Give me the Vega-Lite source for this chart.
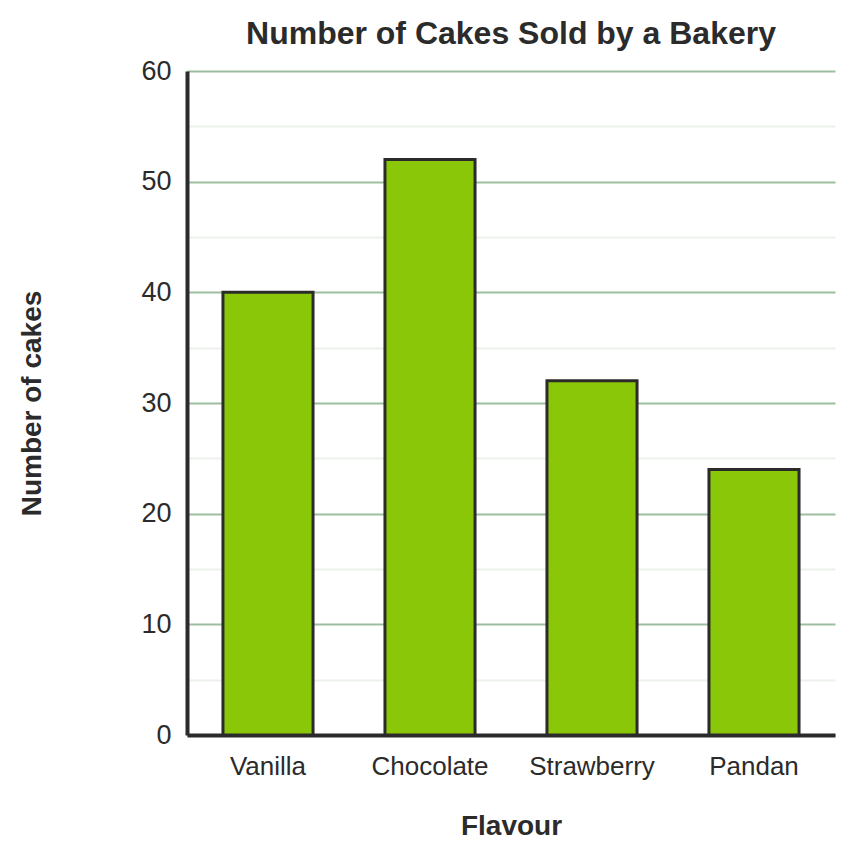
{
  "$schema": "https://vega.github.io/schema/vega-lite/v6.json",
  "width": 648,
  "height": 664,
  "autosize": "none",
  "padding": {"left": 187, "top": 71, "right": 21, "bottom": 120},
  "background": "white",
  "title": {
    "text": "Number of Cakes Sold by a Bakery",
    "font": "Liberation Sans",
    "fontSize": 32,
    "fontWeight": "bold",
    "color": "#2b2b2b",
    "offset": 6
  },
  "data": {
    "values": [
      {"flavour": "Vanilla", "cakes": 40},
      {"flavour": "Chocolate", "cakes": 52},
      {"flavour": "Strawberry", "cakes": 32},
      {"flavour": "Pandan", "cakes": 24}
    ]
  },
  "mark": {"type": "bar", "color": "#8bc709", "stroke": "#2b2b2b", "strokeWidth": 3},
  "encoding": {
    "x": {
      "field": "flavour",
      "type": "nominal",
      "sort": null,
      "title": "Flavour",
      "scale": {"paddingInner": 0.444, "paddingOuter": 0.222},
      "axis": {
        "labelAngle": 0,
        "labelFont": "Liberation Sans",
        "labelFontSize": 26,
        "labelColor": "#2b2b2b",
        "labelPadding": 18,
        "ticks": false,
        "domainColor": "#2b2b2b",
        "domainWidth": 4,
        "titleFont": "Liberation Sans",
        "titleFontSize": 28,
        "titleFontWeight": "bold",
        "titleColor": "#2b2b2b",
        "titlePadding": 33
      }
    },
    "y": {
      "field": "cakes",
      "type": "quantitative",
      "title": "Number of cakes",
      "scale": {"domain": [0, 60], "nice": false},
      "axis": {
        "values": [0, 5, 10, 15, 20, 25, 30, 35, 40, 45, 50, 55, 60],
        "labelExpr": "datum.value % 10 === 0 ? datum.label : ''",
        "labelFont": "Liberation Sans",
        "labelFontSize": 27,
        "labelColor": "#2b2b2b",
        "labelPadding": 16,
        "ticks": false,
        "domainColor": "#2b2b2b",
        "domainWidth": 4,
        "grid": true,
        "gridWidth": 2,
        "gridColor": {
          "condition": {"test": "datum.value % 10 === 0", "value": "#9dbf9f"},
          "value": "#ecf1ec"
        },
        "titleFont": "Liberation Sans",
        "titleFontSize": 28,
        "titleFontWeight": "bold",
        "titleColor": "#2b2b2b",
        "titlePadding": 94
      }
    }
  },
  "config": {"view": {"stroke": null}}
}
